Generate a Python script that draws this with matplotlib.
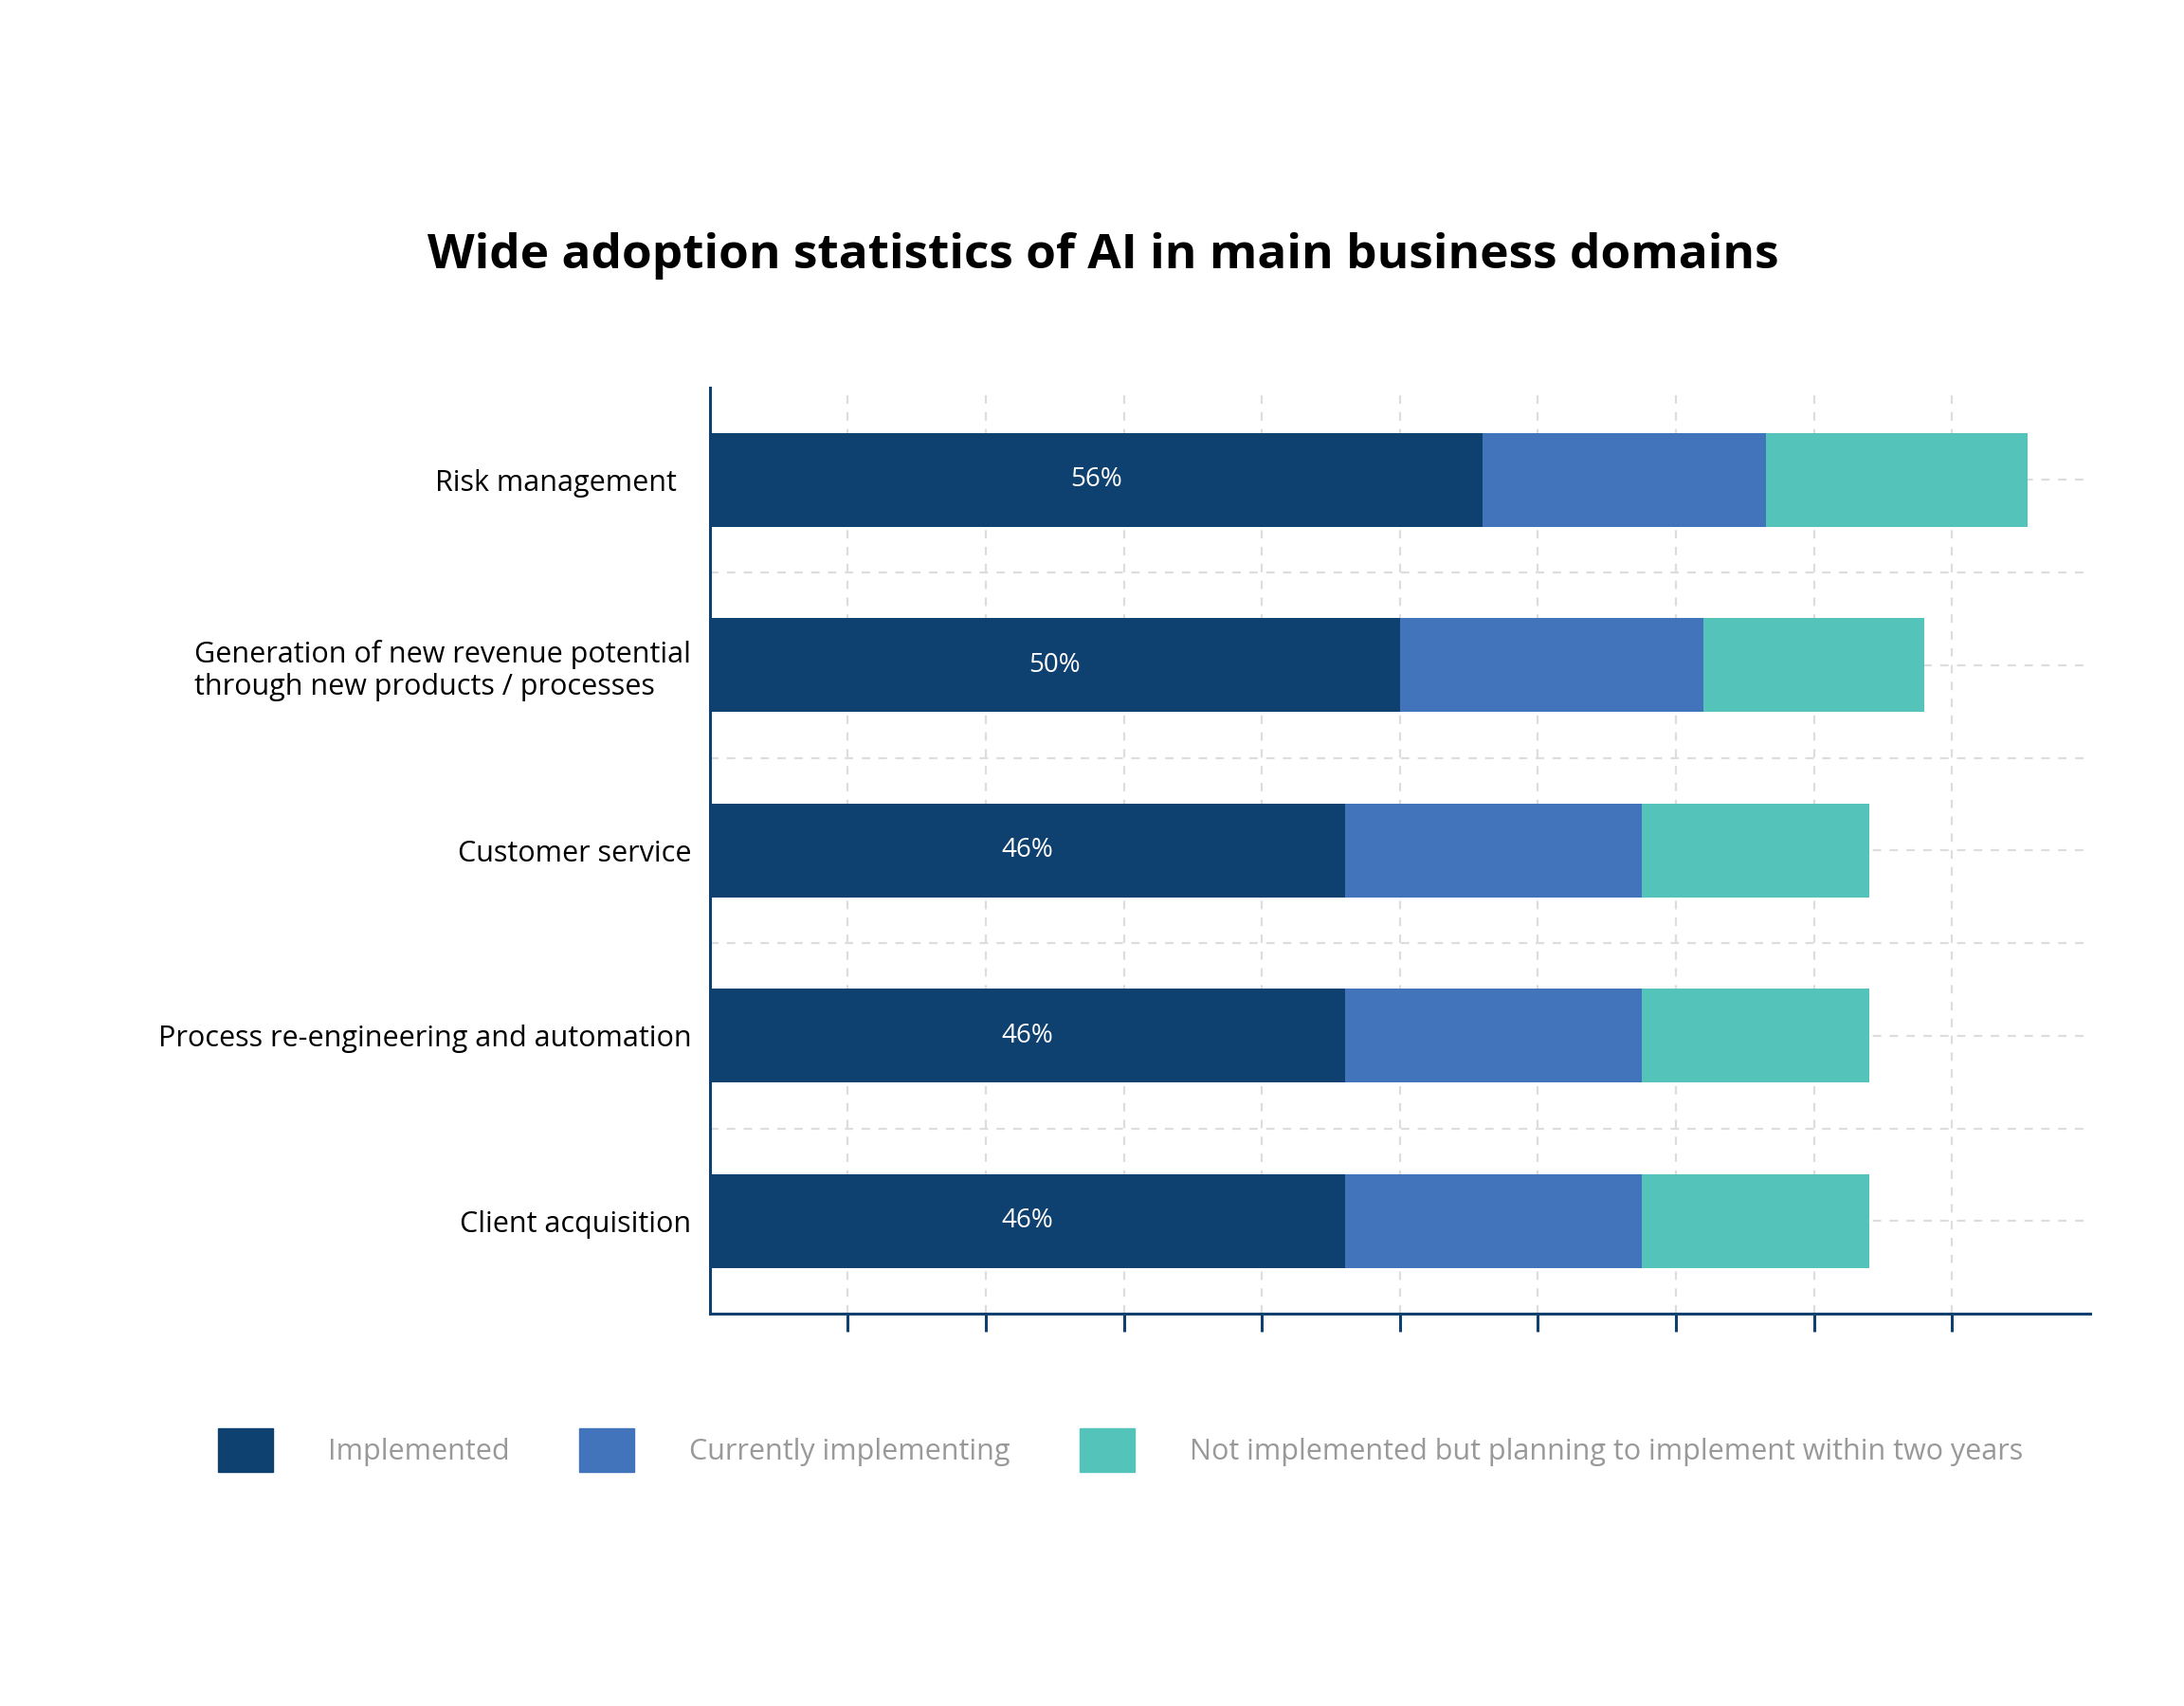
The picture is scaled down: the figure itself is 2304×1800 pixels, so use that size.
import matplotlib.pyplot as plt
from matplotlib.patches import Patch

categories = ['Risk management  ',
              'Generation of new revenue potential\nthrough new products / processes',
              'Customer service', 'Process re-engineering and automation',
              'Client acquisition']
implemented = [56, 50, 46, 46, 46]
implementing = [20.5, 22, 21.5, 21.5, 21.5]
planning = [19, 16, 16.5, 16.5, 16.5]
series_names = ['Implemented', 'Currently implementing',
                'Not implemented but planning to implement within two years']
colors = ['#0f4170', '#4174bb', '#54c4bb']

plt.rcParams['font.family'] = ['Open Sans', 'DejaVu Sans']

fig = plt.figure(figsize=(23.04, 18), dpi=100)
ax = fig.add_axes([0.325, 0.23, 0.632, 0.543])

y = list(range(len(categories)))
h = 0.505
left2 = [a + b for a, b in zip(implemented, implementing)]
ax.barh(y, implemented, height=h, color=colors[0], zorder=3)
ax.barh(y, implementing, left=implemented, height=h, color=colors[1], zorder=3)
ax.barh(y, planning, left=left2, height=h, color=colors[2], zorder=3)

for yi, v in zip(y, implemented):
    ax.text(v / 2, yi, f'{v:.0f}%', color='white', ha='center', va='center', fontsize=20)

grid_kw = dict(color='#dddddd', linestyle=(0, (4, 4)), linewidth=1.6, zorder=1)
for yi in y:
    ax.axhline(yi, **grid_kw)
    if yi < len(y) - 1:
        ax.axhline(yi + 0.5, **grid_kw)
for x in range(10, 100, 10):
    ax.axvline(x, **grid_kw)

ax.set_xlim(0, 100)
ax.set_ylim(len(y) - 0.5, -0.5)
ax.set_yticks(y)
ax.set_yticklabels(categories, fontsize=22)
for lbl in ax.get_yticklabels():
    lbl.set_multialignment('left')
ax.tick_params(axis='y', length=0, pad=14)
ax.set_xticks(range(10, 100, 10))
ax.set_xticklabels([])
ax.tick_params(axis='x', direction='out', length=14, width=2.2, color='#0f4170')
for s in ['top', 'right']:
    ax.spines[s].set_visible(False)
for s in ['left', 'bottom']:
    ax.spines[s].set_color('#0f4170')
    ax.spines[s].set_linewidth(2.2)

fig.text(0.505, 0.85, 'Wide adoption statistics of AI in main business domains',
         ha='center', va='center', fontsize=37, fontweight='bold')

handles = [Patch(color=c) for c in colors]
leg = fig.legend(handles, series_names, loc='center left', bbox_to_anchor=(0.088, 0.15),
                 ncol=3, frameon=False, fontsize=22, handlelength=1.9, handleheight=1.9,
                 handletextpad=1.9, columnspacing=2.4)
for t in leg.get_texts():
    t.set_color('#999999')

fig.savefig('out.png', dpi=100)
